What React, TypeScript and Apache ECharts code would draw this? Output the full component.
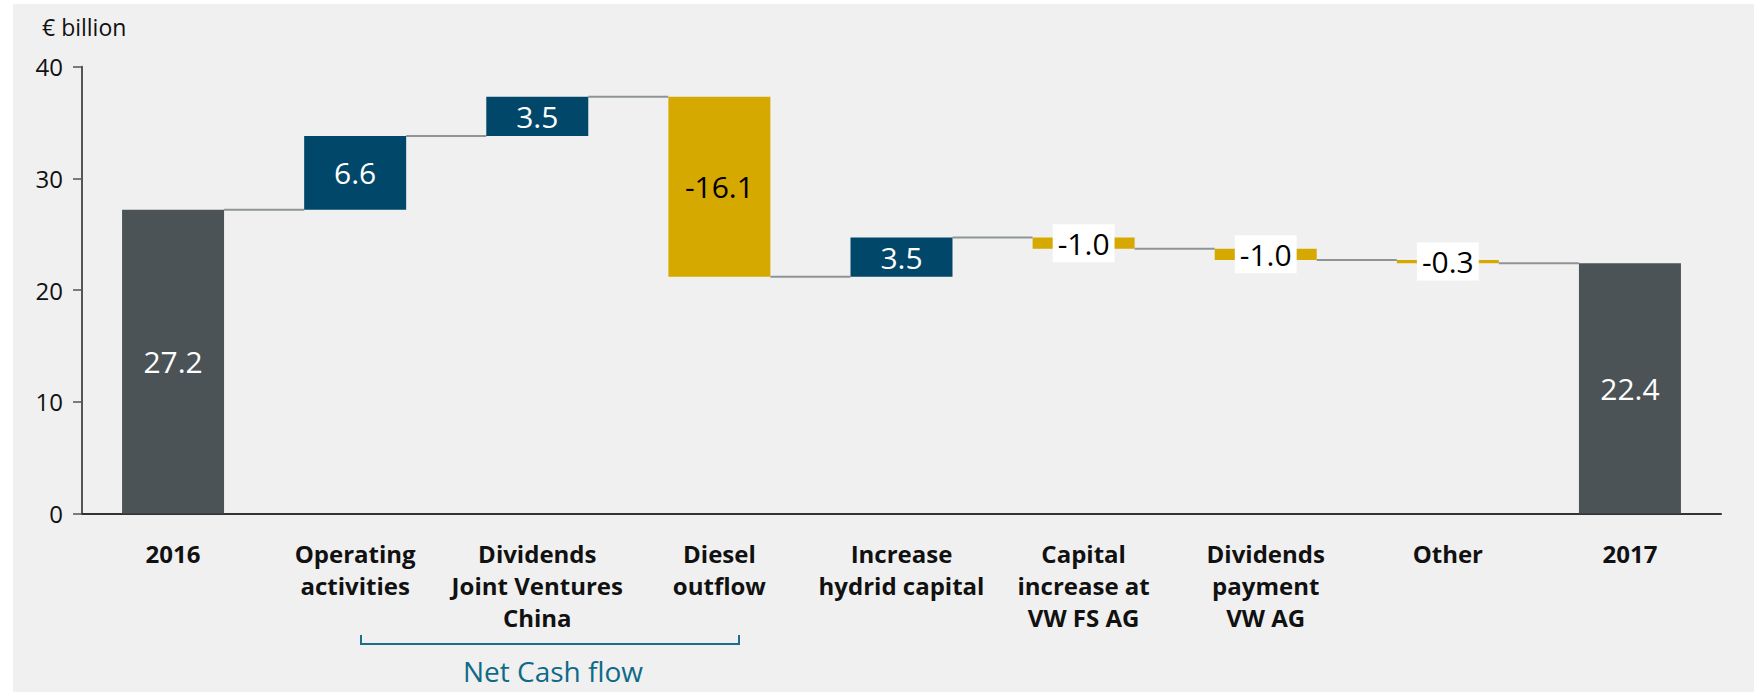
import React, { useEffect, useRef } from "react";
import * as echarts from "echarts";

const categories = [
  "2016",
  "Operating\nactivities",
  "Dividends\nJoint Ventures\nChina",
  "Diesel\noutflow",
  "Increase\nhydrid capital",
  "Capital\nincrease at\nVW FS AG",
  "Dividends\npayment\nVW AG",
  "Other",
  "2017",
];
const deltas = [27.2, 6.6, 3.5, -16.1, 3.5, -1.0, -1.0, -0.3, 22.4];
const kinds = ["total", "up", "up", "down", "up", "down", "down", "down", "total"];
const yTicks = [0, 10, 20, 30, 40];
const unitLabel = "€ billion";
const bracketLabel = "Net Cash flow";

const COLORS: Record<string, string> = {
  total: "#4b5356",
  up: "#00476a",
  down: "#d6a900",
};
const FONT = "'Open Sans', 'Noto Sans', sans-serif";
const BAR_W = 102;

export default function App() {
  const ref = useRef<HTMLDivElement>(null);
  useEffect(() => {
    document.body.style.margin = "0";
    if (!ref.current) return;
    const chart = echarts.init(ref.current, undefined, { renderer: "svg" });

    const bases: number[] = [];
    const heights: number[] = [];
    const levels: number[] = [];
    let run = 0;
    deltas.forEach((d, i) => {
      if (kinds[i] === "total") {
        bases.push(0);
        heights.push(d);
        run = d;
      } else {
        const next = run + d;
        bases.push(Math.min(run, next));
        heights.push(Math.abs(d));
        run = next;
      }
      levels.push(Math.round(run * 10) / 10);
    });

    const visibleData = heights.map((h, i) => {
      const small = Math.abs(deltas[i]) < 2;
      return {
        value: h,
        itemStyle: { color: COLORS[kinds[i]] },
        label: small
          ? {
              show: true,
              position: "inside",
              color: "#000",
              backgroundColor: "#ffffff",
              padding: [4, 5, 4, 5],
            }
          : {
              show: true,
              position: "inside",
              color: kinds[i] === "down" ? "#000" : "#fff",
            },
      };
    });

    const connectorData = levels.slice(0, levels.length - 1).map((lv, i) => [i, lv]);

    chart.setOption({
      animation: false,
      backgroundColor: "#ffffff",
      textStyle: { fontFamily: FONT },
      graphic: [
        {
          type: "rect",
          z: -10,
          shape: { x: 13, y: 4, width: 1754 - 13, height: 692 - 4 },
          style: { fill: "#f0f0f0" },
          silent: true,
        },
        {
          type: "text",
          x: 42,
          y: 27,
          style: {
            text: unitLabel,
            fontSize: 23,
            fontFamily: FONT,
            fill: "#111",
            align: "left",
            verticalAlign: "middle",
          },
        },
        {
          type: "polyline",
          shape: { points: [[361, 635], [361, 644], [739, 644], [739, 635]] },
          style: { stroke: "#1a6f8d", lineWidth: 2, fill: "none" },
        },
        {
          type: "text",
          x: 553,
          y: 671,
          style: {
            text: bracketLabel,
            fontSize: 28,
            fontFamily: FONT,
            fill: "#0e6a88",
            align: "center",
            verticalAlign: "middle",
          },
        },
      ],
      grid: { left: 82, right: 33, top: 66.7, bottom: 178.5, containLabel: false },
      xAxis: {
        type: "category",
        data: categories,
        axisTick: { show: false },
        axisLine: { show: true, lineStyle: { color: "#333", width: 2 } },
        axisLabel: {
          interval: 0,
          margin: 24,
          fontSize: 24,
          fontWeight: "bold",
          lineHeight: 32,
          color: "#111",
          fontFamily: FONT,
        },
      },
      yAxis: {
        type: "value",
        min: yTicks[0],
        max: yTicks[yTicks.length - 1],
        interval: 10,
        splitLine: { show: false },
        axisLine: { show: true, lineStyle: { color: "#555", width: 2 } },
        axisTick: { show: true, length: 9, lineStyle: { color: "#555", width: 1.5 } },
        axisLabel: { fontSize: 24, color: "#111", margin: 19, fontFamily: FONT },
      },
      series: [
        {
          type: "bar",
          stack: "wf",
          barWidth: BAR_W,
          data: bases,
          itemStyle: { color: "transparent" },
          silent: true,
          label: { show: false },
        },
        {
          type: "bar",
          stack: "wf",
          barWidth: BAR_W,
          data: visibleData,
          label: {
            show: true,
            fontSize: 30,
            fontFamily: FONT,
            formatter: (p: any) => deltas[p.dataIndex].toFixed(1),
          },
        },
        {
          type: "custom",
          data: connectorData,
          z: 1,
          silent: true,
          renderItem: (params: any, api: any) => {
            const i = api.value(0);
            const lv = api.value(1);
            const a = api.coord([i, lv]);
            const b = api.coord([i + 1, lv]);
            return {
              type: "line",
              shape: { x1: a[0] + BAR_W / 2, y1: a[1], x2: b[0] - BAR_W / 2, y2: b[1] },
              style: { stroke: "#8f9597", lineWidth: 2 },
            };
          },
        },
      ],
    });
    return () => chart.dispose();
  }, []);
  return <div ref={ref} style={{ width: 1754, height: 692 }} />;
}
